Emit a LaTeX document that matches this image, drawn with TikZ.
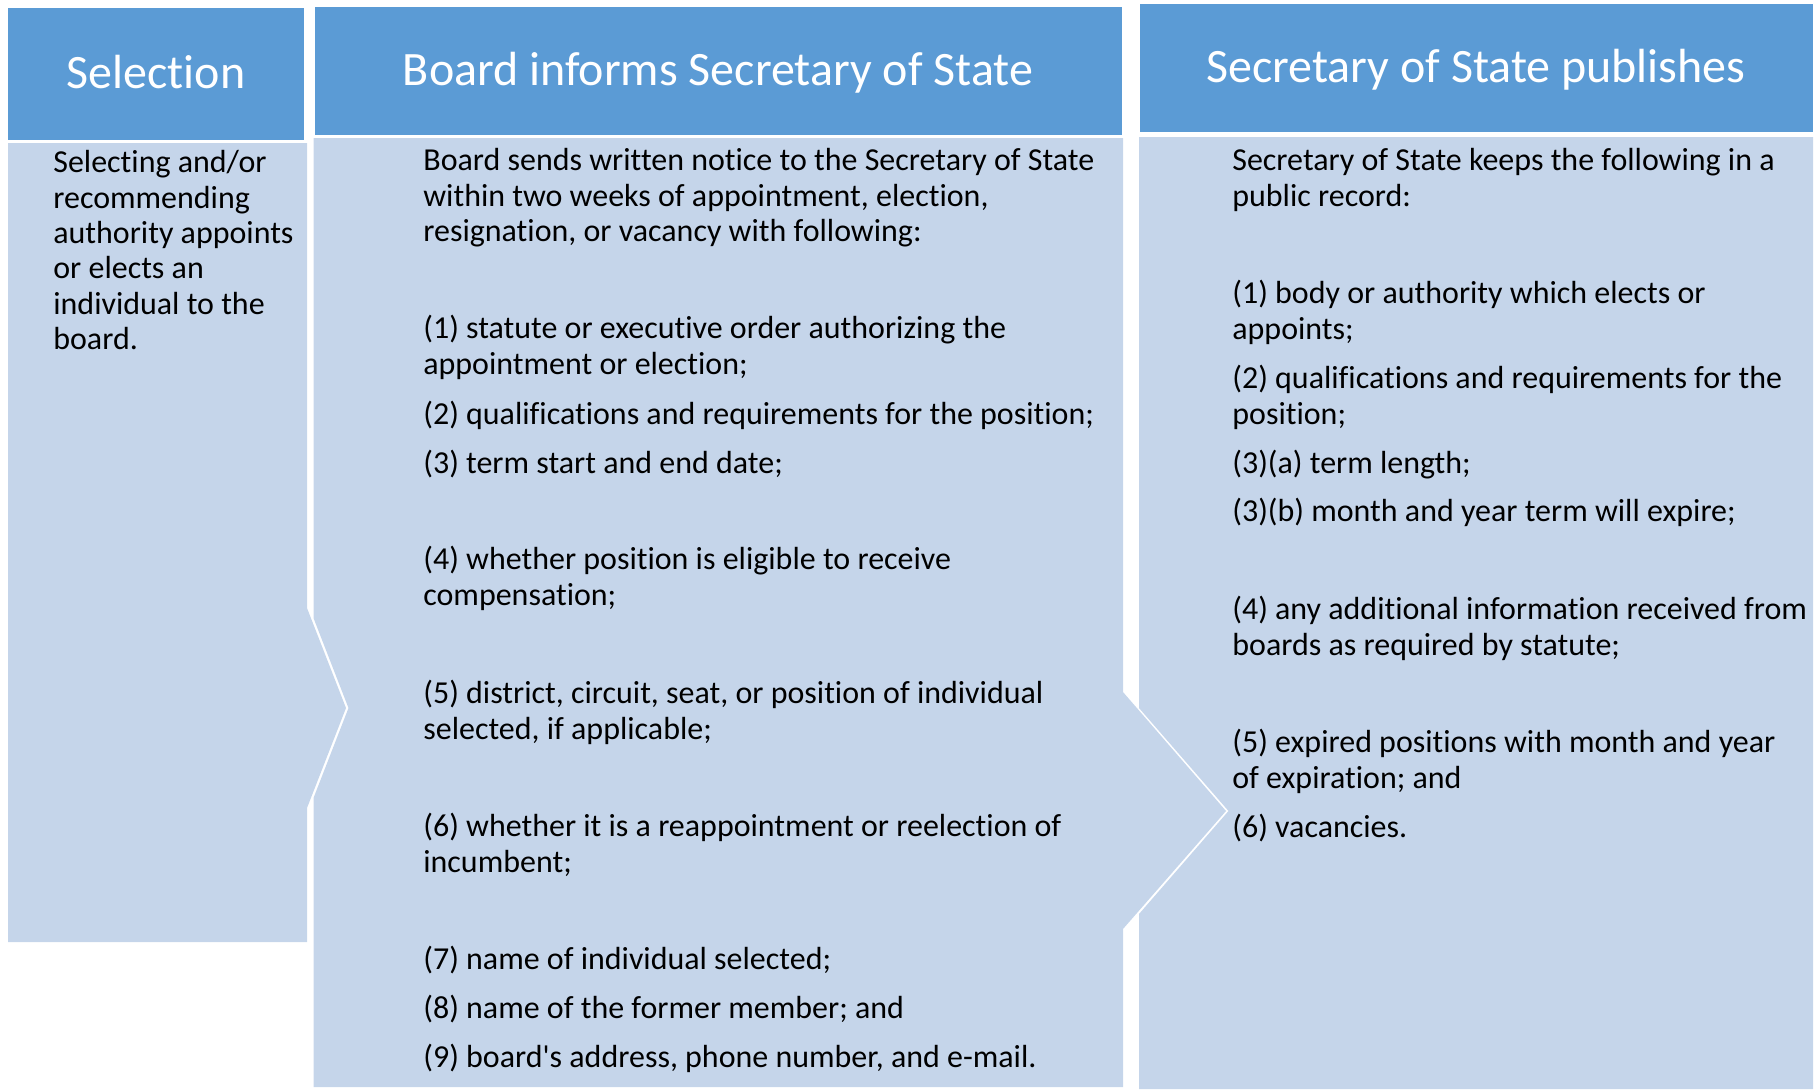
\documentclass[tikz,border=0pt]{standalone}
\usepackage{fontspec}
\setmainfont{Carlito}[Ligatures={TeXOff,CommonOff}]
\definecolor{headblue}{HTML}{5B9BD5}
\definecolor{bodyblue}{HTML}{C5D5EA}

\tikzset{
  headtext/.style={anchor=base, text=white, inner sep=0pt, font=\fontsize{27.3}{32}\selectfont},
  itemtext/.style={anchor=base west, align=left, inner sep=0pt, font=\fontsize{18.2}{20.1}\selectfont},
}

\begin{document}
\begin{tikzpicture}[x=0.02cm, y=-0.02cm]
\useasboundingbox (0,0) rectangle (1819,1089);

% the three header boxes
\fill[headblue] (8,8) rectangle (304,140);
\fill[headblue] (315,7) rectangle (1122,135);
\fill[headblue] (1140,4) rectangle (1813,132);

% the three bodies, with arrow points and notches
\coordinate (t1) at (346,708);
\coordinate (t2) at (1226,811);

\fill[bodyblue] (8,143) -- (307,143) -- (307,608) -- (t1) -- (307,808) -- (307,942) -- (8,942) -- cycle;
\fill[bodyblue] (313.5,138) -- (1123,138) -- (1123,692) -- (t2) -- (1123,929) -- (1123,1087) -- (313.5,1087) -- (313.5,798) -- (348.5,708) -- (313.5,618) -- cycle;
\fill[bodyblue] (1139,137) -- (1813,137) -- (1813,1089) -- (1139,1089) -- (1139,914) -- (1228.5,811) -- (1139,708) -- cycle;

% header texts
\node[headtext] (h1) at (156,88) {Selection};
\node[headtext] (h2) at (718,85) {Board informs Secretary of State};
\node[headtext] (h3) at (1476,82) {Secretary of State publishes};

% left (base anchor sits on the last line)
\node[itemtext] (s1) at (53,349.5) {Selecting and/or\\recommending\\authority appoints\\or elects an\\individual to the\\board.};

% middle
\node[itemtext] (b0) at (423,241.6) {Board sends written notice to the Secretary of State\\within two weeks of appointment, election,\\resignation, or vacancy with following:};
\node[itemtext] (b1) at (423,374.3) {(1) statute or executive order authorizing the\\appointment or election;};
\node[itemtext] (b2) at (423,424) {(2) qualifications and requirements for the position;};
\node[itemtext] (b3) at (423,473) {(3) term start and end date;};
\node[itemtext] (b4) at (423,605.3) {(4) whether position is eligible to receive\\compensation;};
\node[itemtext] (b5) at (423,739.3) {(5) district, circuit, seat, or position of individual\\selected, if applicable;};
\node[itemtext] (b6) at (423,872.3) {(6) whether it is a reappointment or reelection of\\incumbent;};
\node[itemtext] (b7) at (423,969) {(7) name of individual selected;};
\node[itemtext] (b8) at (423,1018) {(8) name of the former member; and};
\node[itemtext] (b9) at (423,1067) {(9) board's address, phone number, and e-mail.};

% right
\node[itemtext] (r0) at (1232,206.3) {Secretary of State keeps the following in a\\public record:};
\node[itemtext] (r1) at (1232,339.3) {(1) body or authority which elects or\\appoints;};
\node[itemtext] (r2) at (1232,424.3) {(2) qualifications and requirements for the\\position;};
\node[itemtext] (r3) at (1232,473) {(3)(a) term length;};
\node[itemtext] (r4) at (1232,521) {(3)(b) month and year term will expire;};
\node[itemtext] (r5) at (1232,655.3) {(4) any additional information received from\\boards as required by statute;};
\node[itemtext] (r6) at (1232,788.3) {(5) expired positions with month and year\\of expiration; and};
\node[itemtext] (r7) at (1232,837) {(6) vacancies.};
\end{tikzpicture}
\end{document}
